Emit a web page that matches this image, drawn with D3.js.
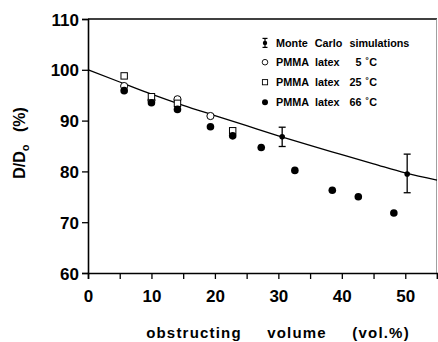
<!DOCTYPE html>
<html><head><meta charset="utf-8">
<script src="https://cdn.jsdelivr.net/npm/d3@7"></script>
<style>body{margin:0;background:#fff}svg{display:block}</style>
</head><body>
<script>
// Data
const xTicks = [0,10,20,30,40,50];
const yTicks = [60,70,80,90,100,110];
const curveX = [0,5,10,15,20,25,30,35,40,45,50,55];
const curveY = [100,97.6,95.2,93.0,91.0,89.0,87.0,85.1,83.3,81.5,79.7,78.3];
const mcX = [30.6,50.3];
const mcY = [86.8,79.5];
const mcLo = [84.9,75.8];
const mcHi = [88.7,83.4];
const t5X = [5.7,10,14.1,19.3];
const t5Y = [96.8,94.0,94.2,90.9];
const t25X = [5.7,10,14.1,22.8];
const t25Y = [98.8,94.7,93.4,88.0];
const t66X = [5.7,10,14.1,19.3,22.8,27.3,32.6,38.5,42.6,48.2];
const t66Y = [95.9,93.5,92.2,88.8,87.0,84.7,80.2,76.3,75.0,71.8];
const legendLabels = ["Monte Carlo simulations","PMMA","PMMA","PMMA"];
const legendMid = ["","latex","latex","latex"];
const legendTemps = ["","5 \u02DAC","25 \u02DAC","66 \u02DAC"];

const W=438,H=342;
const svg=d3.select("body").append("svg").attr("width",W).attr("height",H);
const x=d3.scaleLinear().domain([0,55]).range([88,437]);
const y=d3.scaleLinear().domain([60,110]).range([273,19]);
const font="'Liberation Sans', Arial, sans-serif";

// frame
svg.append("line").attr("x1",x(0)).attr("x2",x(55)).attr("y1",y(110)).attr("y2",y(110)).attr("stroke","#000").attr("stroke-width",1.5);
svg.append("line").attr("x1",x(55)-0.5).attr("x2",x(55)-0.5).attr("y1",y(110)).attr("y2",y(60)).attr("stroke","#888").attr("stroke-width",0.8);

// axes
const xa=svg.append("g").attr("transform",`translate(0,${y(60)})`)
  .call(d3.axisBottom(x).tickValues(d3.range(0,56,5)).tickSize(6).tickFormat(d=>xTicks.includes(d)?d:""));
const ya=svg.append("g").attr("transform",`translate(${x(0)},0)`)
  .call(d3.axisLeft(y).tickValues(yTicks).tickSize(6));
[xa,ya].forEach(g=>{
  g.select(".domain").attr("stroke","#000").attr("stroke-width",1.6);
  g.selectAll(".tick line").attr("stroke","#000").attr("stroke-width",1.3);
  g.selectAll("text").attr("font-family",font).attr("font-weight","bold").attr("font-size",17).attr("fill","#000");
});
xa.selectAll("text").attr("dy","1.2em");
ya.selectAll("text").attr("x",-9).attr("dy","0.36em");

// curve
svg.append("path").datum(curveX.map((d,i)=>[d,curveY[i]]))
  .attr("d",d3.line().x(d=>x(d[0])).y(d=>y(d[1])).curve(d3.curveMonotoneX))
  .attr("fill","none").attr("stroke","#000").attr("stroke-width",1.3);

// symbols
svg.selectAll(".c5").data(t5X).enter().append("circle")
  .attr("cx",d=>x(d)).attr("cy",(d,i)=>y(t5Y[i])).attr("r",3.6)
  .attr("fill","#fff").attr("stroke","#000").attr("stroke-width",1);
svg.selectAll(".s25").data(t25X).enter().append("rect")
  .attr("x",d=>x(d)-3.2).attr("y",(d,i)=>y(t25Y[i])-3.2).attr("width",6.4).attr("height",6.4)
  .attr("fill","#fff").attr("stroke","#000").attr("stroke-width",1);
svg.selectAll(".c66").data(t66X).enter().append("circle")
  .attr("cx",d=>x(d)).attr("cy",(d,i)=>y(t66Y[i])).attr("r",3.8).attr("fill","#000");

// monte carlo
mcX.forEach((d,i)=>{
  const cx=x(d);
  const g=svg.append("g").attr("stroke","#000").attr("stroke-width",1.3);
  g.append("line").attr("x1",cx).attr("x2",cx).attr("y1",y(mcLo[i])).attr("y2",y(mcHi[i]));
  g.append("line").attr("x1",cx-3.5).attr("x2",cx+3.5).attr("y1",y(mcLo[i])).attr("y2",y(mcLo[i]));
  g.append("line").attr("x1",cx-3.5).attr("x2",cx+3.5).attr("y1",y(mcHi[i])).attr("y2",y(mcHi[i]));
  svg.append("circle").attr("cx",cx).attr("cy",y(mcY[i])).attr("r",2.8).attr("fill","#000");
});

// legend
const lg=svg.append("g");
const rowsY=[46.7,66,86,106];
const lt=(xx,yy,t,anchor)=>lg.append("text").attr("x",xx).attr("y",yy).attr("text-anchor",anchor||"start").text(t)
    .attr("font-family",font).attr("font-weight","bold").attr("font-size",10.8).attr("word-spacing",4);
legendLabels.forEach((t,i)=>{
  const yy=rowsY[i];
  lt(276,yy,t);
  if(legendMid[i]) lt(315,yy,legendMid[i]);
  if(legendTemps[i]) lt(377,yy,legendTemps[i],"end").attr("word-spacing",1);
  const cy=yy-3.8, cx=265;
  if(i===0){
    lg.append("line").attr("x1",cx).attr("x2",cx).attr("y1",cy-4.5).attr("y2",cy+4.5).attr("stroke","#000").attr("stroke-width",1.2);
    lg.append("line").attr("x1",cx-2.5).attr("x2",cx+2.5).attr("y1",cy-4.5).attr("y2",cy-4.5).attr("stroke","#000").attr("stroke-width",1.2);
    lg.append("line").attr("x1",cx-2.5).attr("x2",cx+2.5).attr("y1",cy+4.5).attr("y2",cy+4.5).attr("stroke","#000").attr("stroke-width",1.2);
    lg.append("circle").attr("cx",cx).attr("cy",cy).attr("r",2.2).attr("fill","#000");
  } else if(i===1){
    lg.append("circle").attr("cx",cx).attr("cy",cy).attr("r",2.8).attr("fill","#fff").attr("stroke","#000").attr("stroke-width",0.9);
  } else if(i===2){
    lg.append("rect").attr("x",cx-2.6).attr("y",cy-2.6).attr("width",5.2).attr("height",5.2).attr("fill","#fff").attr("stroke","#000").attr("stroke-width",0.9);
  } else {
    lg.append("circle").attr("cx",cx).attr("cy",cy).attr("r",3).attr("fill","#000");
  }
});

// axis titles
svg.append("text").attr("x",278).attr("y",338).attr("text-anchor","middle")
  .attr("font-family",font).attr("font-weight","bold").attr("font-size",15)
  .attr("letter-spacing",1.2).attr("word-spacing",20).text("obstructing volume (vol.%)");
const yl=svg.append("text").attr("transform","translate(25,143) rotate(-90)").attr("text-anchor","middle")
  .attr("font-family",font).attr("font-weight","bold").attr("font-size",16).attr("word-spacing",8);
yl.append("tspan").text("D/D");
yl.append("tspan").attr("font-size",11).attr("dy",4).text("o");
yl.append("tspan").attr("dy",-4).text(" (%)");
</script>
</body></html>
